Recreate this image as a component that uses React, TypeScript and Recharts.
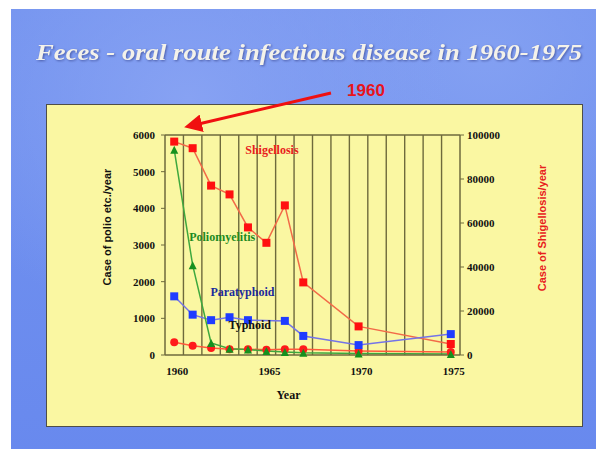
import React from "react";
import {
  LineChart,
  Line,
  XAxis,
  YAxis,
  ReferenceLine,
  ReferenceDot,
  Label,
} from "recharts";

// years with reported values
const years = [1960, 1961, 1962, 1963, 1964, 1965, 1966, 1967, 1970, 1975];
const shigellosis = [97000, 94000, 77000, 73000, 58000, 51000, 68000, 33000, 13000, 5000];
const poliomyelitis = [5600, 2450, 330, 170, 150, 110, 80, 60, 40, 30];
const paratyphoid = [1600, 1100, 950, 1030, 950, null, 930, 520, 270, 570];
const typhoid = [350, 250, 190, 160, 160, 140, 160, 160, 110, 80];

const firstYear = 1960;
const lastYear = 1975;
const xTicks = [1960, 1965, 1970, 1975];
const leftTicks = [0, 1000, 2000, 3000, 4000, 5000, 6000];
const rightTicks = [0, 20000, 40000, 60000, 80000, 100000];

const data = years.map((year, i) => ({
  year,
  shigellosis: shigellosis[i],
  poliomyelitis: poliomyelitis[i],
  paratyphoid: paratyphoid[i],
  typhoid: typhoid[i],
}));

// category boundaries between the years (vertical grid lines)
const boundaries: number[] = [];
for (let y = firstYear; y < lastYear; y++) boundaries.push(y + 0.5);

const GRID = "#6e6a3c";
const SERIF = "'Liberation Serif', 'Times New Roman', serif";
const SANS = "'Liberation Sans', Arial, sans-serif";

const Square = (color: string, size: number) => (p: any) =>
  p.cx == null || p.cy == null ? <g key={p.key} /> : (
    <rect key={p.key} x={p.cx - size / 2} y={p.cy - size / 2} width={size} height={size} fill={color} />
  );

const Triangle = (color: string, size: number) => (p: any) =>
  p.cx == null || p.cy == null ? <g key={p.key} /> : (
    <polygon
      key={p.key}
      points={`${p.cx},${p.cy - size / 2} ${p.cx - size / 2},${p.cy + size / 2} ${p.cx + size / 2},${p.cy + size / 2}`}
      fill={color}
    />
  );

const Dot = (color: string, r: number) => (p: any) =>
  p.cx == null || p.cy == null ? <g key={p.key} /> : <circle key={p.key} cx={p.cx} cy={p.cy} r={r} fill={color} />;

const LeftTick = (p: any) => (
  <text x={p.x} y={p.y + 4} textAnchor="end" fontFamily={SERIF} fontWeight="bold" fontSize={11} fill="#111">
    {p.payload.value}
  </text>
);

const RightTick = (p: any) => (
  <text x={p.x} y={p.y + 4} textAnchor="start" fontFamily={SERIF} fontWeight="bold" fontSize={11} fill="#111">
    {p.payload.value}
  </text>
);

const BottomTick = (p: any) => (
  <text x={p.x + 3} y={p.y + 8} textAnchor="middle" fontFamily={SERIF} fontWeight="bold" fontSize={11} fill="#111">
    {p.payload.value}
  </text>
);

const App: React.FC = () => (
  <div style={{ position: "relative", width: 604, height: 457, margin: -8, background: "#fff", overflow: "hidden" }}>
    {/* slide background */}
    <div
      style={{
        position: "absolute",
        left: 11,
        top: 9,
        width: 593,
        height: 448,
        background:
          "radial-gradient(ellipse at 30% 20%, #87a2f3 0%, rgba(120,150,240,0) 45%), radial-gradient(ellipse at 80% 10%, #83a0f2 0%, rgba(120,150,240,0) 40%), linear-gradient(180deg, #7393ef 0%, #6889ee 100%)",
      }}
    />
    {/* yellow panel */}
    <div
      style={{
        position: "absolute",
        left: 46,
        top: 104,
        width: 535,
        height: 321,
        background: "#faf7a2",
        border: "1.5px solid #4e4e48",
      }}
    />
    <svg width={604} height={457} style={{ position: "absolute", left: 0, top: 0 }}>
      <text
        x={309}
        y={60}
        textAnchor="middle"
        fontFamily={SERIF}
        fontStyle="italic"
        fontWeight="bold"
        fontSize={23}
        fill="#f4f2ea"
        textLength={546}
        lengthAdjust="spacingAndGlyphs"
        style={{ filter: "drop-shadow(1px 1px 1px rgba(40,50,120,0.6))" }}
      >
        Feces - oral route infectious disease in 1960-1975
      </text>
    </svg>
    <LineChart
      width={604}
      height={457}
      data={data}
      margin={{ top: 135, right: 84, bottom: 72, left: 105 }}
      style={{ position: "absolute", left: 0, top: 0 }}
    >
      <XAxis
        dataKey="year"
        type="number"
        domain={[firstYear - 0.5, lastYear + 0.5]}
        ticks={xTicks}
        tick={BottomTick}
        tickLine={false}
        tickSize={0}
        tickMargin={12}
        height={30}
        axisLine={{ stroke: GRID, strokeWidth: 1.5 }}
      >
        <Label
          content={(p: any) => (
            <text
              x={p.viewBox.x + p.viewBox.width / 2 - 24}
              y={p.viewBox.y + 44}
              textAnchor="middle"
              fontFamily={SERIF}
              fontWeight="bold"
              fontSize={12}
              fill="#111"
            >
              Year
            </text>
          )}
        />
      </XAxis>
      <YAxis
        yAxisId="left"
        domain={[0, 6000]}
        ticks={leftTicks}
        width={60}
        tick={LeftTick}
        tickSize={4}
        tickMargin={6}
        tickLine={{ stroke: GRID }}
        axisLine={{ stroke: GRID, strokeWidth: 1.5 }}
      >
        <Label
          content={(p: any) => {
            const cx = p.viewBox.x + 2;
            const cy = p.viewBox.y + p.viewBox.height / 2 - 18;
            return (
              <text
                x={cx}
                y={cy}
                transform={`rotate(-90, ${cx}, ${cy})`}
                textAnchor="middle"
                dominantBaseline="central"
                fontFamily={SANS}
                fontWeight="bold"
                fontSize={11}
                fill="#111"
              >
                Case of polio etc./year
              </text>
            );
          }}
        />
      </YAxis>
      <YAxis
        yAxisId="right"
        orientation="right"
        domain={[0, 100000]}
        ticks={rightTicks}
        width={60}
        tick={RightTick}
        tickSize={4}
        tickMargin={3}
        tickLine={{ stroke: GRID }}
        axisLine={{ stroke: GRID, strokeWidth: 1.5 }}
      >
        <Label
          content={(p: any) => {
            const cx = p.viewBox.x + 82;
            const cy = p.viewBox.y + p.viewBox.height / 2 - 17;
            return (
              <text
                x={cx}
                y={cy}
                transform={`rotate(-90, ${cx}, ${cy})`}
                textAnchor="middle"
                dominantBaseline="central"
                fontFamily={SANS}
                fontWeight="bold"
                fontSize={11}
                fill="#e8201c"
              >
                Case of Shigellosis/year
              </text>
            );
          }}
        />
      </YAxis>

      {boundaries.map((b) => (
        <ReferenceLine key={b} x={b} yAxisId="left" stroke={GRID} strokeWidth={1.4} />
      ))}
      <ReferenceLine y={6000} yAxisId="left" stroke={GRID} strokeWidth={1.4} />

      <Line
        yAxisId="right"
        dataKey="shigellosis"
        stroke="#f26a48"
        strokeWidth={1.5}
        dot={Square("#ff1010", 8)}
        connectNulls
        isAnimationActive={false}
      />
      <Line
        yAxisId="left"
        dataKey="typhoid"
        stroke="#ff5a3c"
        strokeWidth={1.5}
        dot={Dot("#ff1a1a", 4)}
        connectNulls
        isAnimationActive={false}
      />
      <Line
        yAxisId="left"
        dataKey="paratyphoid"
        stroke="#7474e8"
        strokeWidth={1.5}
        dot={Square("#1f3cff", 8)}
        connectNulls
        isAnimationActive={false}
      />
      <Line
        yAxisId="left"
        dataKey="poliomyelitis"
        stroke="#3ea83e"
        strokeWidth={1.5}
        dot={Triangle("#16901e", 8)}
        connectNulls
        isAnimationActive={false}
      />

      <ReferenceDot yAxisId="right" x={1965.3} y={93500} r={0} fill="none" stroke="none">
        <Label value="Shigellosis" position="center" fill="#e8201c" fontFamily={SERIF} fontWeight="bold" fontSize={12} />
      </ReferenceDot>
      <ReferenceDot yAxisId="left" x={1962.6} y={3220} r={0} fill="none" stroke="none">
        <Label value="Poliomyelitis" position="center" fill="#1d8a22" fontFamily={SERIF} fontWeight="bold" fontSize={12} />
      </ReferenceDot>
      <ReferenceDot yAxisId="left" x={1963.7} y={1720} r={0} fill="none" stroke="none">
        <Label value="Paratyphoid" position="center" fill="#1c2a9c" fontFamily={SERIF} fontWeight="bold" fontSize={12} />
      </ReferenceDot>
      <ReferenceDot yAxisId="left" x={1964.1} y={820} r={0} fill="none" stroke="none">
        <Label value="Typhoid" position="center" fill="#111" fontFamily={SERIF} fontWeight="bold" fontSize={12} />
      </ReferenceDot>
    </LineChart>
    {/* "1960" callout arrow */}
    <svg width={604} height={457} style={{ position: "absolute", left: 0, top: 0, pointerEvents: "none" }}>
      <defs>
        <marker id="arrowhead" markerWidth="6" markerHeight="6" refX="4" refY="3" orient="auto" markerUnits="strokeWidth">
          <path d="M0,0 L6,3 L0,6 Z" fill="#f01010" />
        </marker>
      </defs>
      <line x1={331} y1={93} x2={190} y2={126} stroke="#f01010" strokeWidth={3} markerEnd="url(#arrowhead)" />
      <text x={366} y={96} textAnchor="middle" fontFamily={SANS} fontWeight="bold" fontSize={17} fill="#e8141c">
        1960
      </text>
    </svg>
  </div>
);

export default App;
